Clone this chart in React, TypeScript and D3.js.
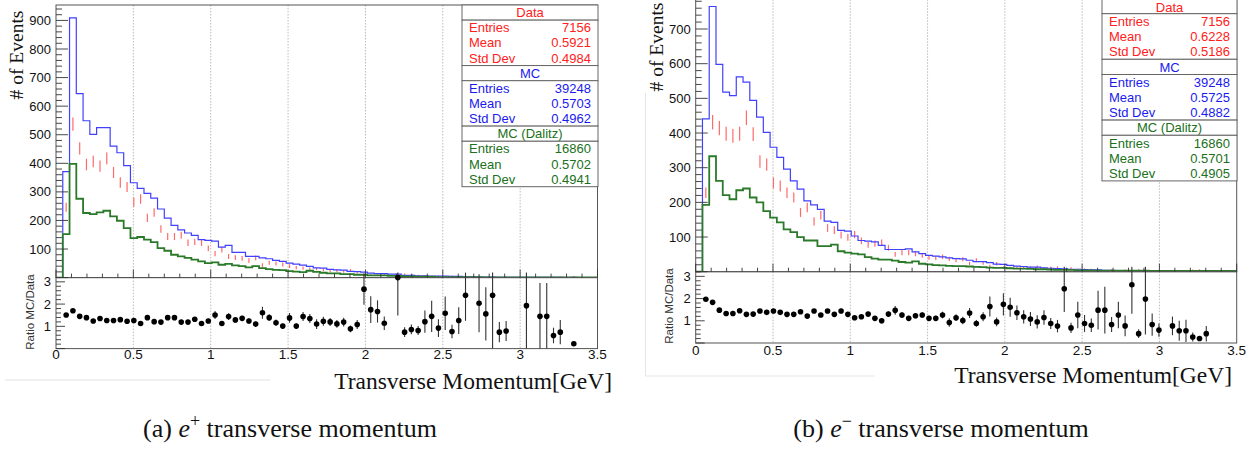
import React from "react";
import * as d3 from "d3";

const NBINS = 80;
const XMAX = 3.5;
const BIN_W = XMAX / NBINS;

const xTickValues = [0, 0.5, 1, 1.5, 2, 2.5, 3, 3.5];
const xTickLabels = ["0", "0.5", "1", "1.5", "2", "2.5", "3", "3.5"];
const gridValues = [0.5, 1, 1.5, 2, 2.5, 3];
const ratioTickValues = [1, 2, 3];
const statHeaders = ["Data", "MC", "MC (Dalitz)"];
const statLabels = ["Entries", "Mean", "Std Dev"];

// ---------- (a) e+ ----------
const leftMC = [0, 371, 909, 644, 549, 501, 525, 525, 460, 437, 392, 332, 312, 295, 278, 240, 208, 183, 167, 156, 148, 133, 130, 128, 107, 113, 88, 88, 74, 74, 69, 66, 60, 57, 51, 47, 44, 39, 34, 33, 29, 27, 26, 22, 21, 19, 16, 14, 14, 12, 12, 8, 8, 6, 6, 5, 5, 5, 4, 4, 3, 3, 2, 2, 2, 1, 1, 1, 1, 1, 1, 1, 1, 1, 1, 0, 1, 0, 0, 0];
const leftData = [0, 246, 537, 452, 396, 406, 390, 417, 368, 333, 317, 264, 275, 209, 228, 170, 144, 144, 148, 122, 125, 122, 102, 84, 98, 74, 70, 67, 60, 69, 44, 52, 49, 46, 40, 35, 33, 30, 31, 27, 24, 24, 22, 25, 19, 7, 9, 8, 12, 0, 4, 11, 9, 7, 5, 3, 5, 3, 5, 3, 1, 0, 1, 1, 1, 2, 2, 0, 0, 1, 0, 1, 1, 2, 2, 0, 4, 0, 0, 0];
const leftDalitz = [0, 152, 398, 276, 226, 222, 228, 234, 214, 199, 173, 138, 142, 133, 124, 103, 94, 80, 74, 69, 63, 57, 51, 53, 45, 48, 43, 40, 36, 40, 33, 30, 27, 26, 23, 21, 19, 24, 20, 17, 15, 15, 12, 12, 10, 10, 8, 8, 8, 6, 6, 4, 4, 3, 3, 3, 2, 2, 2, 2, 2, 2, 2, 1, 1, 1, 1, 1, 1, 1, 1, 1, 1, 1, 1, 1, 1, 1, 1, 1];
const leftRatio = [null, 1.51, 1.70, 1.45, 1.39, 1.24, 1.35, 1.26, 1.26, 1.30, 1.23, 1.26, 1.13, 1.39, 1.21, 1.19, 1.39, 1.39, 1.19, 1.19, 1.32, 1.13, 1.24, 1.51, 1.13, 1.44, 1.29, 1.36, 1.24, 1.10, 1.61, 1.39, 1.16, 1.01, 1.38, 1.01, 1.44, 1.35, 1.10, 1.23, 1.20, 1.11, 1.19, 0.89, 1.08, 2.67, 1.75, 1.67, 1.14, null, 3.19, 0.74, 0.86, 0.81, 1.21, 1.45, 0.92, 1.59, 0.77, 1.26, 2.40, null, 2.04, 1.56, 2.40, 0.74, 0.79, null, null, 1.93, null, 1.45, 1.45, 0.59, 0.74, null, 0.22, null, null, null];
const leftRatioErr = [0, 0.05, 0.05, 0.05, 0.05, 0.05, 0.05, 0.05, 0.05, 0.05, 0.05, 0.06, 0.06, 0.1, 0.07, 0.08, 0.08, 0.08, 0.08, 0.08, 0.09, 0.09, 0.1, 0.18, 0.1, 0.15, 0.12, 0.12, 0.12, 0.12, 0.27, 0.15, 0.15, 0.12, 0.22, 0.12, 0.2, 0.2, 0.22, 0.2, 0.18, 0.17, 0.2, 0.15, 0.2, 0.7, 0.6, 0.5, 0.3, 0, 1.7, 0.22, 0.22, 0.2, 0.5, 0.7, 0.4, 0.75, 0.3, 0.6, 1.15, 0, 1.3, 1.2, 2.4, 0.45, 0.45, 0, 0, 2.0, 0, 1.5, 1.5, 0.35, 0.55, 0, 0.05, 0, 0, 0];
const leftStatValues = [["7156", "0.5921", "0.4984"], ["39248", "0.5703", "0.4962"], ["16860", "0.5702", "0.4941"]];

// ---------- (b) e- ----------
const rightMC = [0, 441, 765, 598, 518, 508, 562, 547, 494, 446, 402, 359, 330, 296, 262, 238, 204, 193, 180, 146, 142, 119, 117, 103, 90, 88, 86, 76, 64, 64, 64, 66, 57, 52, 47, 45, 43, 40, 38, 37, 33, 29, 29, 26, 22, 21, 18, 16, 15, 13, 13, 11, 10, 9, 8, 7, 7, 6, 5, 5, 4, 4, 3, 3, 3, 2, 2, 2, 1, 1, 1, 1, 1, 1, 1, 1, 0, 0, 0, 0];
const rightData = [0, 228, 431, 414, 398, 392, 398, 444, 397, 318, 309, 256, 247, 228, 214, 171, 185, 145, 163, 126, 120, 106, 99, 107, 89, 78, 81, 84, 69, 50, 55, 55, 52, 47, 41, 40, 43, 37, 33, 36, 24, 33, 25, 16, 23, 12, 11, 12, 13, 12, 14, 10, 11, 12, 3, 10, 6, 7, 6, 3, 3, 5, 2, 4, 1, 5, 1, 2, 2, 0, 1, 2, 2, 4, 5, 2, 0, 0, 0, 0];
const rightDalitz = [0, 193, 333, 262, 221, 209, 235, 240, 214, 200, 175, 156, 142, 122, 114, 100, 90, 90, 74, 74, 78, 59, 55, 52, 50, 42, 38, 35, 35, 32, 28, 26, 30, 23, 21, 19, 18, 17, 16, 16, 15, 14, 13, 12, 11, 11, 10, 9, 9, 8, 7, 7, 6, 5, 5, 5, 4, 4, 4, 3, 3, 3, 3, 3, 3, 3, 3, 2, 2, 2, 2, 2, 2, 2, 2, 2, 2, 2, 2, 2];
const rightRatio = [null, 1.97, 1.83, 1.48, 1.33, 1.33, 1.45, 1.29, 1.30, 1.44, 1.38, 1.44, 1.38, 1.29, 1.29, 1.41, 1.21, 1.44, 1.26, 1.44, 1.29, 1.44, 1.29, 1.14, 1.18, 1.30, 1.11, 1.00, 1.30, 1.47, 1.26, 1.11, 1.23, 1.26, 1.11, 1.11, 1.26, 0.92, 1.14, 1.01, 1.35, 0.88, 1.18, 1.64, 0.95, 1.74, 1.61, 1.36, 1.18, 1.08, 0.95, 1.15, 0.88, 0.76, 2.44, 0.68, 1.26, 0.88, 0.80, 1.48, 1.48, 0.83, 1.26, 0.77, 2.62, 0.42, 1.98, 0.83, 0.58, null, 0.77, 0.55, 0.55, 0.27, 0.20, 0.42, null, null, null, null];
const rightRatioErr = [0, 0.06, 0.06, 0.06, 0.06, 0.06, 0.06, 0.06, 0.06, 0.06, 0.06, 0.07, 0.07, 0.07, 0.07, 0.08, 0.08, 0.08, 0.08, 0.09, 0.09, 0.1, 0.1, 0.1, 0.1, 0.11, 0.11, 0.11, 0.12, 0.2, 0.13, 0.12, 0.12, 0.12, 0.12, 0.12, 0.15, 0.19, 0.15, 0.17, 0.23, 0.15, 0.2, 0.45, 0.2, 0.5, 0.43, 0.33, 0.3, 0.32, 0.3, 0.33, 0.25, 0.28, 1.04, 0.23, 0.6, 0.38, 0.3, 0.87, 1.05, 0.34, 0.6, 0.47, 1.3, 0.2, 1.6, 0.5, 0.3, 0, 0.42, 0.45, 0.5, 0.2, 0.1, 0.35, 0, 0, 0, 0];
const rightStatValues = [["7156", "0.6228", "0.5186"], ["39248", "0.5725", "0.4882"], ["16860", "0.5701", "0.4905"]];

const SANS = "'Liberation Sans', Arial, Helvetica, sans-serif";
const SERIF = "'Liberation Serif', 'Times New Roman', serif";
const C_DATA = "#ff2020";
const C_DATA_BAR = "#ff6a6a";
const C_MC = "#4040ff";
const C_MC_TEXT = "#1a1aee";
const C_DAL = "#2a7a2a";
const C_DAL_TEXT = "#207020";
const C_FRAME = "#555";

type Layout = {
  x0: number; x1: number; top: number; base: number; ymax: number;
  yMajor: number; yLabelMax: number;
  rBot: number; rMax: number; labelBase: number;
  titleX: number; titleY: number; evX: number; evY: number; rlX: number; rlY: number;
  boxX: number; boxTop: number; boxRight: number; rowH: number; headDy: number;
  capX: number; capY: number; tag: string; sign: string;
};

const leftLayout: Layout = {
  x0: 56, x1: 597.5, top: 5, base: 277.6, ymax: 954, yMajor: 100, yLabelMax: 900,
  rBot: 348.6, rMax: 3.19, labelBase: 359,
  titleX: 612, titleY: 389, evX: 16, evY: 55, rlX: 30, rlY: 312,
  boxX: 462, boxTop: 5, boxRight: 598, rowH: 15.14, headDy: 0,
  capX: 290, capY: 437, tag: "(a) ", sign: "+",
};
const rightLayout: Layout = {
  x0: 695.7, x1: 1236.7, top: -6.7, base: 271.7, ymax: 803, yMajor: 100, yLabelMax: 700,
  rBot: 343, rMax: 3.21, labelBase: 355,
  titleX: 1232, titleY: 383, evX: 656, evY: 47, rlX: 669, rlY: 306,
  boxX: 1102, boxTop: -1.5, boxRight: 1237, rowH: 15.2, headDy: 1.3,
  capX: 941, capY: 437, tag: "(b) ", sign: "\u2212",
};

function Panel({ L, mc, data, dal, ratio, rerr, stats, id }: any) {
  const x = d3.scaleLinear().domain([0, XMAX]).range([L.x0, L.x1]);
  const y = d3.scaleLinear().domain([0, L.ymax]).range([L.base, L.top]);
  const yr = d3.scaleLinear().domain([0, L.rMax]).range([L.rBot, L.base]);

  const stepPts = (arr: number[]) => {
    const pts: [number, number][] = arr.map((v, i) => [i * BIN_W, v]);
    pts.push([XMAX, arr[arr.length - 1]]);
    return pts;
  };
  const line = d3.line<[number, number]>().x(d => x(d[0])).y(d => y(d[1])).curve(d3.curveStepAfter);

  const yMinor = d3.range(0, L.ymax + 0.001, 20);
  const yMajorTicks = d3.range(0, L.ymax + 0.001, L.yMajor);
  const xMinor = d3.range(0, XMAX + 0.001, 0.1);
  const rMinor = d3.range(0, L.rMax + 0.001, 0.2);

  const rowH = L.rowH;
  const colors = [C_DATA, C_MC_TEXT, C_DAL_TEXT];

  return (
    <g>
      <defs>
        <clipPath id={"clipU" + id}>
          <rect x={L.x0} y={L.top} width={L.x1 - L.x0} height={L.base - L.top} />
        </clipPath>
      </defs>
      {gridValues.map(g => (
        <line key={"gu" + g} x1={x(g)} x2={x(g)} y1={L.top} y2={L.base} stroke="#aaa" strokeWidth={0.8} strokeDasharray="1.5,1.5" />
      ))}
      {gridValues.map(g => (
        <line key={"gr" + g} x1={x(g)} x2={x(g)} y1={L.base} y2={L.rBot} stroke="#aaa" strokeWidth={0.8} strokeDasharray="1.5,1.5" />
      ))}
      <g clipPath={`url(#clipU${id})`}>
        {data.map((d: number, i: number) => d > 0 ? (
          <line key={"d" + i} x1={x((i + 0.5) * BIN_W)} x2={x((i + 0.5) * BIN_W)}
            y1={y(d - Math.sqrt(d))} y2={y(d + Math.sqrt(d))} stroke={C_DATA_BAR} strokeWidth={1.2} />
        ) : null)}
        <path d={line(stepPts(mc)) || ""} fill="none" stroke={C_MC} strokeWidth={1.2} />
        <path d={line(stepPts(dal)) || ""} fill="none" stroke={C_DAL} strokeWidth={1.8} />
      </g>
      <rect x={L.x0} y={L.top} width={L.x1 - L.x0} height={L.base - L.top} fill="none" stroke={C_FRAME} strokeWidth={1} />
      <rect x={L.x0} y={L.base} width={L.x1 - L.x0} height={L.rBot - L.base} fill="none" stroke={C_FRAME} strokeWidth={1} />
      {yMinor.map(v => (
        <line key={"ym" + v} x1={L.x0} x2={L.x0 + (v % L.yMajor === 0 ? 12 : 6)} y1={y(v)} y2={y(v)} stroke="#333" strokeWidth={0.9} />
      ))}
      {yMajorTicks.filter(v => v > 0 && v <= L.yLabelMax).map(v => (
        <text key={"yl" + v} x={L.x0 - 5} y={y(v) + 4.6} textAnchor="end" fontFamily={SANS} fontSize={13} fill="#111">{v}</text>
      ))}
      {xMinor.map((v, k) => (
        <line key={"xm" + k} x1={x(v)} x2={x(v)} y1={L.base} y2={L.base - (k % 5 === 0 ? 8 : 4)} stroke="#333" strokeWidth={0.9} />
      ))}
      {rMinor.map((v, k) => (
        <line key={"rm" + k} x1={L.x0} x2={L.x0 + (k % 5 === 0 ? 9 : 5)} y1={yr(v)} y2={yr(v)} stroke="#333" strokeWidth={0.9} />
      ))}
      {ratioTickValues.map(v => (
        <text key={"rl" + v} x={L.x0 - 5} y={yr(v) + 4.6} textAnchor="end" fontFamily={SANS} fontSize={13} fill="#111">{v}</text>
      ))}
      {xTickValues.map((v, k) => (
        <text key={"xl" + k} x={x(v)} y={L.labelBase} textAnchor="middle" fontFamily={SANS} fontSize={13.5} fill="#111">{xTickLabels[k]}</text>
      ))}
      {ratio.map((r: number | null, i: number) => {
        if (r === null) return null;
        const cx = x((i + 0.5) * BIN_W);
        const e = rerr[i];
        const yTop = Math.max(yr(r + e), L.base - 5);
        const yBot = Math.min(yr(Math.max(r - e, 0)), L.rBot);
        return (
          <g key={"r" + i}>
            <line x1={cx} x2={cx} y1={yTop} y2={yBot} stroke="#333" strokeWidth={1.1} />
            <circle cx={cx} cy={yr(r)} r={2.8} fill="#000" />
          </g>
        );
      })}
      {statHeaders.map((h, s) => {
        const top = L.boxTop + s * 4 * rowH;
        return (
          <g key={"sb" + s}>
            <rect x={L.boxX} y={top} width={L.boxRight - L.boxX} height={rowH} fill="#fff" stroke="#666" strokeWidth={1} />
            <text x={(L.boxX + L.boxRight) / 2} y={top + rowH / 2 + 4.6 + (s === 0 ? L.headDy : 0)} textAnchor="middle" fontFamily={SANS} fontSize={13} fill={colors[s]}>{h}</text>
            <rect x={L.boxX} y={top + rowH} width={L.boxRight - L.boxX} height={3 * rowH} fill="#fff" stroke="#666" strokeWidth={1} />
            {statLabels.map((lab, j) => (
              <g key={"sl" + j}>
                <text x={L.boxX + 7} y={top + (j + 1) * rowH + rowH / 2 + 4.6} fontFamily={SANS} fontSize={13} fill={colors[s]}>{lab}</text>
                <text x={L.boxRight - 7} y={top + (j + 1) * rowH + rowH / 2 + 4.6} textAnchor="end" fontFamily={SANS} fontSize={13} fill={colors[s]}>{stats[s][j]}</text>
              </g>
            ))}
          </g>
        );
      })}
      <text transform={`translate(${L.evX},${L.evY}) rotate(-90)`} textAnchor="middle" dominantBaseline="central" fontFamily={SERIF} fontSize={19.5} fill="#111"># of Events</text>
      <text transform={`translate(${L.rlX},${L.rlY}) rotate(-90)`} textAnchor="middle" dominantBaseline="central" fontFamily={SANS} fontSize={11.5} fill="#333">Ratio MC/Data</text>
      <text x={L.titleX} y={L.titleY} textAnchor="end" fontFamily={SERIF} fontSize={23.5} fill="#111">Transverse Momentum[GeV]</text>
      <text x={L.capX} y={L.capY} textAnchor="middle" fontFamily={SERIF} fontSize={26} fill="#111">
        {L.tag}<tspan fontStyle="italic">e</tspan><tspan fontSize={18} dy={-10}>{L.sign}</tspan><tspan dy={10}> transverse momentum</tspan>
      </text>
    </g>
  );
}

export default function App() {
  return (
    <svg width={1260} height={449} style={{ position: "absolute", left: 0, top: 0, background: "#fff" }}>
      <rect x={0} y={0} width={1260} height={449} fill="#fff" />
      <line x1={5} x2={270} y1={380} y2={380} stroke="#e2e2e2" strokeWidth={1} />
      <line x1={645.5} x2={645.5} y1={93} y2={376} stroke="#e6e6e6" strokeWidth={1} />
      <line x1={645} x2={875} y1={376} y2={376} stroke="#e6e6e6" strokeWidth={1} />
      <Panel id="L" L={leftLayout} mc={leftMC} data={leftData} dal={leftDalitz} ratio={leftRatio} rerr={leftRatioErr} stats={leftStatValues} />
      <Panel id="R" L={rightLayout} mc={rightMC} data={rightData} dal={rightDalitz} ratio={rightRatio} rerr={rightRatioErr} stats={rightStatValues} />
    </svg>
  );
}
